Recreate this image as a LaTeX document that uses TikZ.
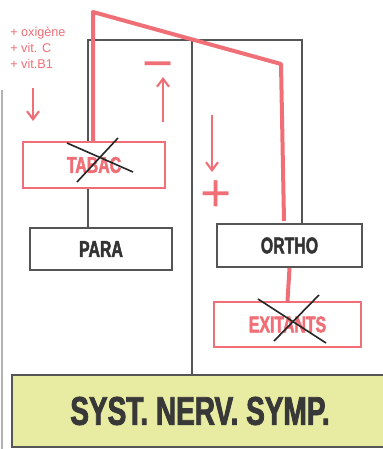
\documentclass[tikz,border=0pt]{standalone}
\usepackage{fontspec}
\usepackage{xcolor}
\usetikzlibrary{positioning, arrows.meta}

\newfontfamily\boxfont{Liberation Sans}[FakeStretch=0.7, BoldFeatures={FakeBold=2}]
\newfontfamily\notefont{Liberation Sans}

\definecolor{wirec}{RGB}{85,85,85}
\definecolor{salmon}{RGB}{240,110,118}
\definecolor{paleyel}{RGB}{232,236,162}

\begin{document}
\begin{tikzpicture}[x=0.75pt, y=-0.75pt, >={Straight Barb[length=6pt,width=9pt]},
    b/.style={draw=wirec, line width=1.5pt, fill=white, text=black!80,
              minimum width=106.5pt, minimum height=31.5pt,
              font=\boxfont\bfseries\fontsize{17}{17}\selectfont},
    rb/.style={b, draw=salmon, text=salmon},
    wire/.style={draw=wirec, line width=1.9pt},
    redwire/.style={draw=salmon, line width=3pt},
    redarrow/.style={->, draw=salmon, line width=1.6pt},
    cross/.style={draw=black!85, line width=1.2pt},
    sign/.style={text=salmon, inner sep=0pt, font=\notefont\fontsize{40}{40}\selectfont}]
  \useasboundingbox (0,0) rectangle (382,449);
  % boxes
  \node[rb] (tabac) at (94,165) [minimum height=34.5pt] {TABAC};
  \node[b]  (para)  at (101,249) {PARA};
  \node[b]  (ortho) at (289.5,245.5) [minimum width=108.75pt, minimum height=32.25pt] {ORTHO};
  \node[rb] (exit)  at (287.5,324.5) [minimum width=110.25pt, minimum height=33.75pt] {EXITANTS};
  \node[draw=wirec, line width=1.5pt, fill=paleyel, text=black!78,
        minimum width=282pt, minimum height=54pt,
        font=\boxfont\bfseries\fontsize{30}{30}\selectfont]
        (syst) at (200,411) {SYST.\ NERV.\ SYMP.};
  % frame
  \draw[black!30, line width=0.8pt] (2,90) -- (2,449);
  \coordinate (tl) at (88,40);
  \coordinate (tm) at (192,40);
  \coordinate (tr) at (302,40);
  \draw[wire] (tl |- para.north) -- (tl |- tabac.south);
  \draw[wire] (tl |- tabac.north) -- (tl) -- (tr) -- (tr |- ortho.north);
  \draw[wire] (tm) -- (tm |- syst.north);
  % red path
  \coordinate (rt) at (93,12);
  \coordinate (rk) at (281,64);
  \coordinate (re) at (284,221);
  \draw[redwire, line join=round] (rt |- tabac.north) -- (rt) -- (rk) -- (re);
  \draw[redwire] (ortho.south) -- (exit.north);
  % notes
  \node[text=salmon, align=left, anchor=west, inner sep=0pt,
        font=\notefont\fontsize{9.5}{12}\selectfont] (note) at (10,48)
        {+ oxigène\\+ vit. C\\+ vit.B1};
  \coordinate (a1) at (33,88);  \coordinate (a2) at (33,121);
  \coordinate (a3) at (163,122); \coordinate (a4) at (163,77);
  \coordinate (a5) at (212,115); \coordinate (a6) at (212,172);
  \draw[redarrow] (a1) -- (a2);
  \draw[redarrow] (a3) -- (a4);
  \draw[redarrow] (a5) -- (a6);
  \node[sign] (minus) at (158,72) {−};
  \node[sign] (plus) at (216,196) {+};
  % crossed out
  \draw[cross] ([shift={(-27,-22)}]tabac.center) -- ([shift={(39,7)}]tabac.center);
  \draw[cross] ([shift={(-17,17)}]tabac.center) -- ([shift={(24,-27)}]tabac.center);
  \draw[cross] ([shift={(-29.5,-25.5)}]exit.center) -- ([shift={(38.5,18.5)}]exit.center);
  \draw[cross] ([shift={(-13.5,16.5)}]exit.center) -- ([shift={(31.5,-29.5)}]exit.center);
\end{tikzpicture}
\end{document}
